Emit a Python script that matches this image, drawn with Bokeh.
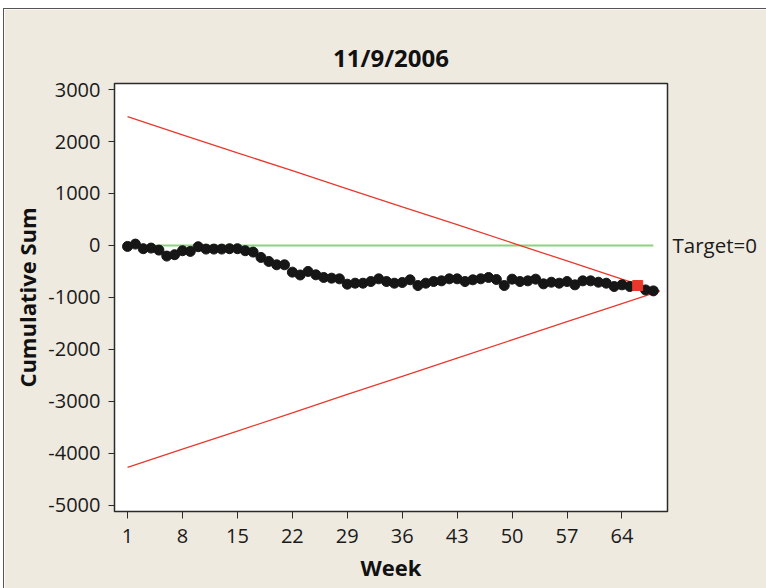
from bokeh.plotting import figure
from bokeh.models import Range1d, FixedTicker, ColumnDataSource, Spacer, LinearAxis
from bokeh.layouts import column, row
from bokeh.embed import file_html
from bokeh.resources import INLINE

# ---- data ----
weeks = list(range(1, 69))
cusum = [-20, 25, -64, -52, -91, -206, -180, -103, -116, -26,
         -71, -71, -71, -64, -64, -103, -129, -232, -309, -374,
         -374, -515, -570, -502, -567, -618, -631, -644, -747, -728,
         -728, -696, -644, -696, -728, -715, -663, -773, -728, -696,
         -683, -644, -644, -696, -663, -644, -618, -657, -773, -650,
         -696, -683, -650, -741, -709, -728, -696, -760, -683, -683,
         -709, -728, -792, -760, -792, -773, -857, -876]
flagged_weeks = [66]

mask_weeks = [1, 8, 15, 22, 29, 36, 43, 50, 57, 64, 68.8]
mask_upper = [2480, 2130, 1780, 1440, 1090, 740, 400, 50, -300, -650, -880]
mask_lower = [-4276, -3925, -3575, -3225, -2870, -2520, -2170, -1820, -1470, -1120, -880]

target = 0
target_label = "Target=0"
x_ticks = [1, 8, 15, 22, 29, 36, 43, 50, 57, 64]
y_ticks = [-5000, -4000, -3000, -2000, -1000, 0, 1000, 2000, 3000]

BG = "#EEEAE0"
FONT = "Open Sans"

p = figure(frame_width=552, frame_height=427,
           x_range=Range1d(-0.66, 69.8), y_range=Range1d(-5124, 3117),
           output_backend="svg", toolbar_location=None,
           min_border_left=110, min_border_right=100,
           min_border_top=74, min_border_bottom=78,
           title="11/9/2006")
p.styles = {"border-left": "1px solid #555555", "border-top": "1px solid #555555"}
p.border_fill_color = BG
p.background_fill_color = "white"
p.outline_line_color = "#2a2a2a"
p.outline_line_width = 1.5
p.xgrid.visible = False
p.ygrid.visible = False

p.title.align = "center"
p.title.text_font = FONT
p.title.text_font_style = "bold"
p.title.text_font_size = "24px"
p.title.text_color = "#111111"
p.title.standoff = 20

for ax in (p.xaxis[0], p.yaxis[0]):
    ax.axis_line_color = "#2a2a2a"
    ax.major_tick_line_color = "#2a2a2a"
    ax.minor_tick_line_color = None
    ax.major_tick_in = 0
    ax.major_label_text_font = FONT
    ax.major_label_text_font_size = "20px"
    ax.major_label_text_color = "#1a1a1a"
    ax.axis_label_text_font = FONT
    ax.axis_label_text_font_style = "bold"
    ax.axis_label_text_font_size = "22px"
    ax.axis_label_text_color = "#111111"

p.xaxis.ticker = FixedTicker(ticks=x_ticks)
p.yaxis.ticker = FixedTicker(ticks=y_ticks)
p.yaxis.major_label_overrides = {t: str(t) for t in y_ticks}
p.xaxis.major_tick_out = 7
p.yaxis.major_tick_out = 6
p.xaxis.major_label_standoff = 10
p.yaxis.major_label_standoff = 8
p.xaxis.axis_label = "Week"
p.yaxis.axis_label = "Cumulative Sum"
p.xaxis.axis_label_standoff = 6
p.yaxis.axis_label_standoff = 3

# right-hand axis used only to write the target label
tax = LinearAxis(ticker=FixedTicker(ticks=[target]),
                 major_label_overrides={target: target_label})
tax.axis_line_color = None
tax.major_tick_line_color = None
tax.minor_tick_line_color = None
tax.major_tick_in = 0
tax.major_tick_out = 0
tax.major_label_standoff = 5
tax.major_label_text_font = FONT
tax.major_label_text_font_size = "20.5px"
tax.major_label_text_color = "#1a1a1a"
p.add_layout(tax, "right")

# target line
p.line([weeks[0], weeks[-1]], [target, target], line_color="#8CD47A", line_width=2)

# V-mask arms
p.line(mask_weeks, mask_upper, line_color="#E8392E", line_width=1.3)
p.line(mask_weeks, mask_lower, line_color="#E8392E", line_width=1.3)

ok = ColumnDataSource(dict(
    x=[w for w in weeks if w not in flagged_weeks],
    y=[v for w, v in zip(weeks, cusum) if w not in flagged_weeks]))
bad = ColumnDataSource(dict(
    x=[w for w in weeks if w in flagged_weeks],
    y=[v for w, v in zip(weeks, cusum) if w in flagged_weeks]))

p.scatter("x", "y", source=ok, size=10, fill_color="#161616", line_color="#161616")
p.scatter("x", "y", source=bad, marker="square", size=10,
          fill_color="#E8382B", line_color="#E8382B")

layout = column(Spacer(height=8, width=766), row(Spacer(width=3, height=580), p))
open("out.html", "w").write(file_html(layout, INLINE))
